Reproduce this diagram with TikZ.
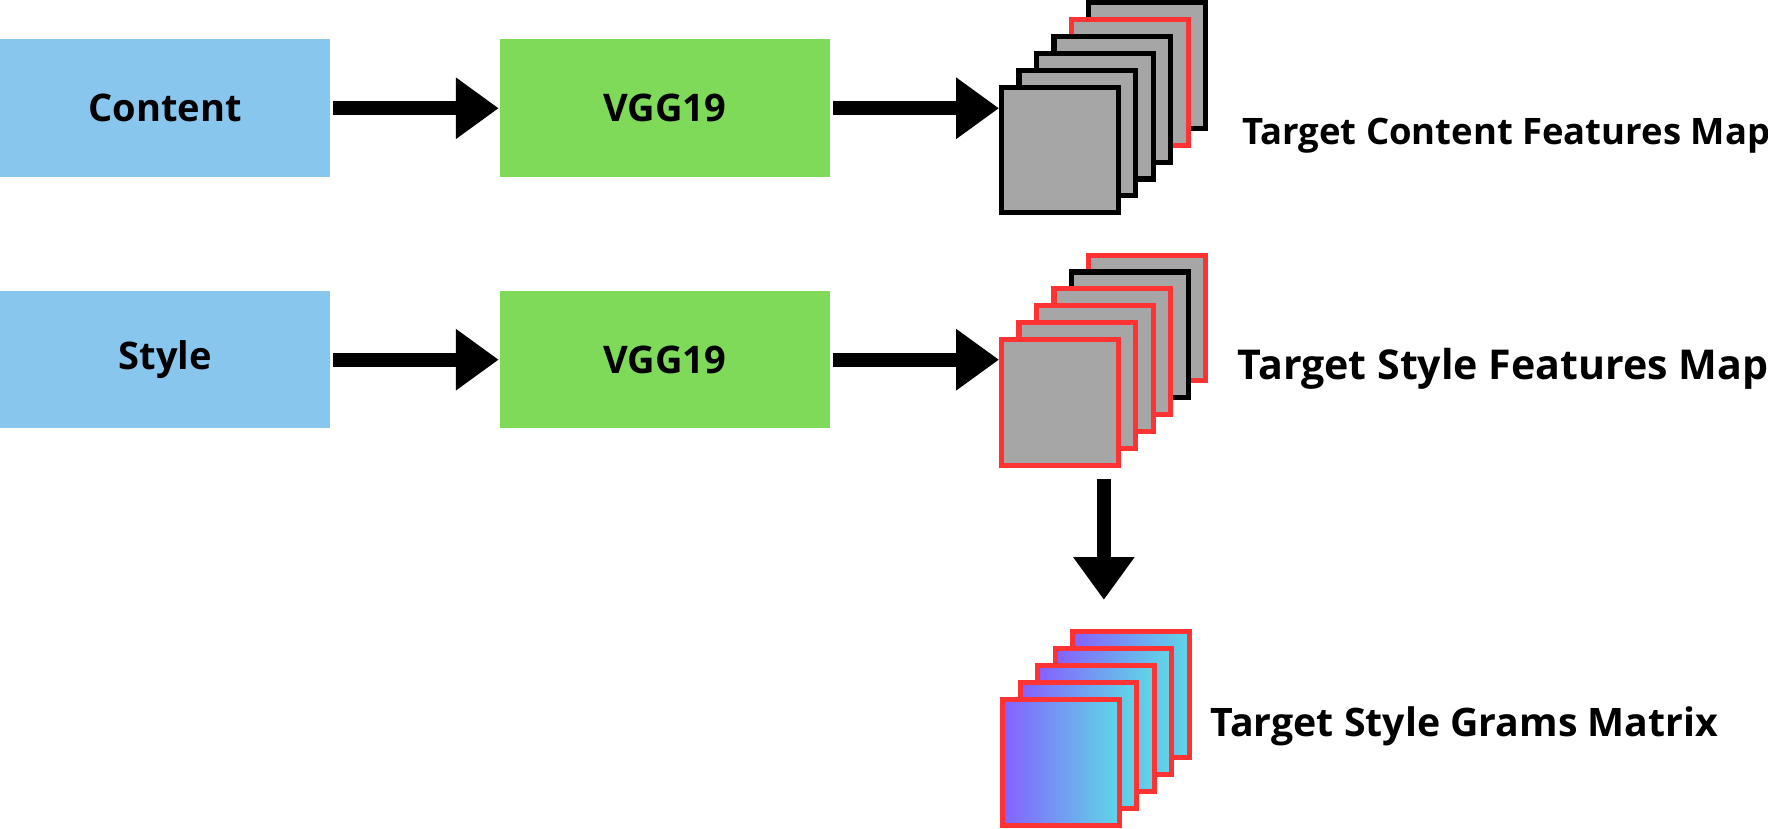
\documentclass[tikz,border=0pt]{standalone}
\usepackage{fontspec}
\setmainfont{Open Sans}
\usetikzlibrary{arrows.meta,positioning}
\definecolor{inblue}{HTML}{89C6EE}
\definecolor{vgggreen}{HTML}{7FDA5A}
\definecolor{mapgray}{HTML}{A6A6A6}
\definecolor{mapred}{HTML}{FF3333}
\definecolor{grampurple}{HTML}{8560FF}
\definecolor{gramcyan}{HTML}{5ED8E6}
\tikzset{
  inbox/.style={fill=inblue, minimum width=29.3mm, minimum height=12.2mm, inner sep=0pt, font=\fontsize{9.6}{11}\selectfont\bfseries},
  vggbox/.style={inbox, fill=vgggreen},
  fmap/.style={draw=#1, fill=mapgray, line width=0.45mm, minimum width=10.35mm, minimum height=11.15mm, inner sep=0pt},
  gmap/.style={draw=mapred, left color=grampurple, right color=gramcyan, line width=0.45mm, minimum width=10.35mm, minimum height=11.15mm, inner sep=0pt},
  bigarrow/.style={line width=1.25mm, -{Triangle[length=3.8mm,width=5.2mm]}},
  maplabel/.style={anchor=base west, inner sep=0pt, font=\fontsize{10}{12}\selectfont\bfseries}
}
\begin{document}
\begin{tikzpicture}[x=0.1mm,y=-0.1mm]
\useasboundingbox (0,0) rectangle (1568,735);
\node[inbox] (content) at (146.5,96) {Content};
\node[inbox] (style) at (146.5,319) {Style};
\node[vggbox] (vgg1) at (589.5,96) {VGG19};
\node[vggbox] (vgg2) at (589.5,319) {VGG19};

% feature maps, drawn back to front
\foreach \i/\c in {5/black,4/mapred,3/black,2/black,1/black,0/black}
  \node[fmap=\c] (cmap\i) at (940+15.5*\i,133-15*\i) {};
\foreach \i/\c in {5/mapred,4/black,3/mapred,2/mapred,1/mapred,0/mapred}
  \node[fmap=\c] (smap\i) at (940+15.5*\i,357-15*\i) {};
\foreach \i in {4,...,0}
  \node[gmap] (gram\i) at (941+15.5*\i,676-15*\i) {};

\node[maplabel, font=\fontsize{9.2}{11}\selectfont\bfseries] (clabel) at (1101,128) {Target Content Features Map};
\node[maplabel, font=\fontsize{10.38}{12}\selectfont\bfseries] (slabel) at (1097,337) {Target Style Features Map};
\node[maplabel, font=\fontsize{9.91}{12}\selectfont\bfseries] (glabel) at (1073,653) {Target Style Grams Matrix};

\draw[bigarrow] ([xshift=0.2mm]content.east) -- (vgg1.west);
\draw[bigarrow] ([xshift=0.2mm]style.east) -- (vgg2.west);
\draw[bigarrow] ([xshift=0.2mm]vgg1.east) -- (vgg1.east -| cmap0.west);
\draw[bigarrow] ([xshift=0.2mm]vgg2.east) -- (vgg2.east -| smap0.west);

\coordinate (sfrom) at (979,425);
\coordinate (gto) at (979,532);
\draw[bigarrow] (sfrom) -- (gto);
\end{tikzpicture}
\end{document}
